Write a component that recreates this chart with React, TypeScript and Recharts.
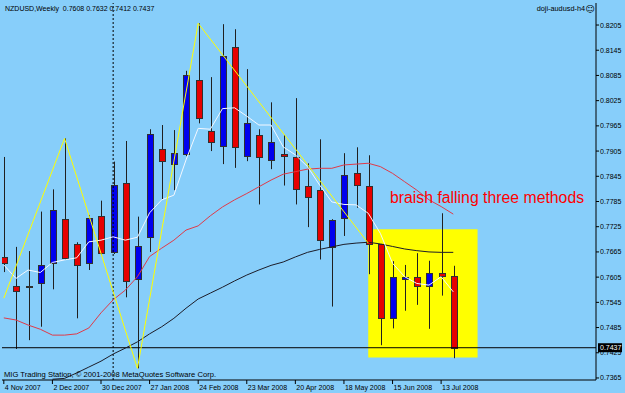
import {
  ComposedChart,
  Bar,
  Line,
  XAxis,
  YAxis,
  ReferenceArea,
  ReferenceLine,
} from "recharts";

// weekly NZDUSD bars, 4 Nov 2007 .. 20 Jul 2008
const OPEN = [
  0.7654, 0.7585, 0.7585, 0.7593, 0.7639, 0.7743, 0.7684, 0.7638, 0.7751, 0.7664,
  0.783, 0.76, 0.7701, 0.7909, 0.7873, 0.7897, 0.8074, 0.7953, 0.7918, 0.8153,
  0.7892, 0.7943, 0.7885, 0.7898, 0.7892, 0.7823, 0.7812, 0.7676, 0.7745, 0.7854,
  0.7823, 0.7683, 0.7507, 0.7601, 0.7605, 0.7584, 0.7615, 0.7608,
];
const HIGH = [
  0.7891, 0.7677, 0.7667, 0.7761, 0.7814, 0.7935, 0.7688, 0.7753, 0.7787, 0.788,
  0.7929, 0.7749, 0.7957, 0.7967, 0.7955, 0.8096, 0.8209, 0.8081, 0.8207, 0.8195,
  0.81, 0.7957, 0.8021, 0.7943, 0.8031, 0.7876, 0.7933, 0.7743, 0.79, 0.7914,
  0.7895, 0.7684, 0.7643, 0.7634, 0.7662, 0.7644, 0.7757, 0.7632,
];
const LOW = [
  0.7617, 0.7434, 0.7455, 0.7487, 0.7576, 0.7646, 0.7507, 0.7622, 0.7658, 0.766,
  0.7557, 0.7388, 0.7665, 0.7789, 0.7812, 0.7893, 0.7971, 0.7905, 0.7874, 0.7865,
  0.7881, 0.7778, 0.7862, 0.7823, 0.7778, 0.7724, 0.7647, 0.7535, 0.7703, 0.777,
  0.7612, 0.7443, 0.7483, 0.7525, 0.7539, 0.7482, 0.7561, 0.7412,
];
const CLOSE = [
  0.764, 0.7574, 0.7585, 0.7635, 0.7764, 0.765, 0.7633, 0.7745, 0.7662, 0.7824,
  0.7597, 0.7679, 0.7946, 0.7881, 0.79, 0.8085, 0.7984, 0.7927, 0.8131, 0.7915,
  0.7971, 0.789, 0.7927, 0.7894, 0.7816, 0.7796, 0.7692, 0.7741, 0.7847, 0.7826,
  0.7685, 0.7508, 0.7605, 0.7606, 0.7584, 0.7615, 0.7608, 0.7437,
];

// moving averages as drawn on the chart
const MA_FAST = [
  0.7634, 0.7602, 0.7622, 0.7616, 0.764, 0.7646, 0.7651, 0.7689, 0.7693, 0.7701,
  0.7693, 0.77, 0.7758, 0.7789, 0.78, 0.7884, 0.7959, 0.7957, 0.8006, 0.8008,
  0.7988, 0.7967, 0.7967, 0.7915, 0.7896, 0.7868, 0.7824, 0.7784, 0.7778, 0.7777,
  0.7757, 0.7709, 0.7638, 0.7606, 0.759, 0.7586, 0.7606, 0.757,
];
const MA_MID = [
  0.7508, 0.7503, 0.7491, 0.7481, 0.7467, 0.7467, 0.747, 0.7484, 0.752, 0.7551,
  0.7574, 0.7606, 0.7654, 0.7674, 0.7693, 0.7717, 0.7727, 0.7751, 0.7772, 0.7789,
  0.7804, 0.782, 0.7836, 0.785, 0.7856, 0.7862, 0.7864, 0.7864, 0.7872, 0.7874,
  0.7876, 0.7868, 0.7852, 0.7832, 0.7812, 0.7789, 0.7773, 0.7755,
];
const MA_SLOW = [
  null, null, null, null, 0.7362, 0.7364, 0.7377, 0.7391, 0.7405, 0.7422,
  0.7436, 0.7451, 0.747, 0.7487, 0.7507, 0.7531, 0.7553, 0.7567, 0.7581, 0.7596,
  0.761, 0.7622, 0.7633, 0.7641, 0.7653, 0.7664, 0.7671, 0.7677, 0.7683, 0.7686,
  0.7688, 0.7684, 0.7678, 0.7672, 0.7668, 0.7665, 0.7664, 0.7664,
];
const ZIGZAG: (number | null)[] = OPEN.map(() => null);
ZIGZAG[0] = 0.7555;
ZIGZAG[5] = 0.7935;
ZIGZAG[11] = 0.7388;
ZIGZAG[16] = 0.8209;
ZIGZAG[30] = 0.7686;

const TICK_IDX = [0, 4, 8, 12, 16, 20, 24, 28, 32, 36];
const DATE_LABELS = [
  "4 Nov 2007", "2 Dec 2007", "30 Dec 2007", "27 Jan 2008", "24 Feb 2008",
  "23 Mar 2008", "20 Apr 2008", "18 May 2008", "15 Jun 2008", "13 Jul 2008",
];
const PRICE_TICKS = [
  0.7365, 0.7425, 0.7485, 0.7545, 0.7605, 0.7665, 0.7725, 0.7785, 0.7845, 0.7905,
  0.7965, 0.8025, 0.8085, 0.8145, 0.8205,
];
const LAST = 0.7437;

const rows = OPEN.map((o, i) => ({
  i,
  open: o,
  high: HIGH[i],
  low: LOW[i],
  close: CLOSE[i],
  range: [LOW[i], HIGH[i]],
  fast: MA_FAST[i],
  mid: MA_MID[i],
  slow: MA_SLOW[i],
  zz: ZIGZAG[i],
}));

const BG = "#87CEFA";
const FONT = "'Liberation Sans', Arial, sans-serif";

function Candle(props: any) {
  const { x, y, width, height, payload } = props;
  if (x == null || !payload) return null;
  const top = Math.min(y, y + height);
  const h = Math.abs(height);
  const k = h / (payload.high - payload.low);
  const cx = Math.round(x + width / 2) + 0.5;
  const up = payload.close > payload.open;
  const flat = payload.close === payload.open;
  const bTop = top + (payload.high - Math.max(payload.open, payload.close)) * k;
  const bH = Math.abs(payload.open - payload.close) * k;
  const fill = flat ? "#000" : up ? "#0000ee" : "#e60000";
  return (
    <g>
      <line x1={cx} x2={cx} y1={top} y2={top + h} stroke="#202020" />
      <rect
        x={cx - 3}
        y={Math.round(bTop) + 0.5}
        width={6}
        height={Math.max(Math.round(bH), 1)}
        fill={fill}
        stroke="#303030"
      />
    </g>
  );
}

function DateTick({ x, y, payload }: any) {
  const label = DATE_LABELS[TICK_IDX.indexOf(payload.value)];
  return (
    <text x={x + 1} y={y + 5.5} fontSize={7} fontFamily={FONT} fill="#000">
      {label}
    </text>
  );
}

function PriceTag({ viewBox }: any) {
  if (!viewBox) return null;
  const x = viewBox.x + viewBox.width + 2;
  const y = viewBox.y;
  return (
    <g>
      <rect x={x} y={y - 4.5} width={24} height={9} fill="#000" />
      <text x={x + 2} y={y + 2.5} fontSize={7} fontFamily={FONT} fill="#fff">
        {LAST.toFixed(4)}
      </text>
    </g>
  );
}

export default function App() {
  return (
    <div style={{ position: "absolute", left: 0, top: 0, width: 625, height: 393, background: BG }}>
      <ComposedChart
        width={625}
        height={393}
        data={rows}
        margin={{ top: 3, right: 0, left: 2, bottom: 0 }}
      >
        <XAxis
          dataKey="i"
          type="number"
          domain={[-0.15, 48.75]}
          ticks={TICK_IDX}
          interval={0}
          allowDataOverflow
          height={13}
          tickSize={4}
          tickMargin={0}
          stroke="#000"
          tick={<DateTick />}
        />
        <YAxis
          orientation="right"
          domain={[0.73602, 0.82574]}
          ticks={PRICE_TICKS}
          interval={0}
          allowDataOverflow
          width={29}
          tickSize={3}
          tickMargin={1}
          stroke="#000"
          tick={{ fill: "#000", fontSize: 7, fontFamily: FONT }}
          tickFormatter={(v: number) => v.toFixed(4)}
        />
        <ReferenceArea x1={30} x2={39} y1={0.7414} y2={0.7719} fill="#ffff00" fillOpacity={1} stroke="none" />
        <ReferenceLine x={9} stroke="#000" strokeDasharray="2 2" />
        <ReferenceLine y={LAST} stroke="#000" label={<PriceTag />} />
        <Bar dataKey="range" barSize={7} shape={<Candle />} isAnimationActive={false} />
        <Line dataKey="slow" stroke="#1c1c28" dot={false} activeDot={false} isAnimationActive={false} />
        <Line dataKey="mid" stroke="#e03a48" dot={false} activeDot={false} isAnimationActive={false} />
        <Line dataKey="fast" stroke="#f4f8ff" dot={false} activeDot={false} isAnimationActive={false} />
        <Line dataKey="zz" stroke="#ffff00" dot={false} activeDot={false} connectNulls isAnimationActive={false} />
      </ComposedChart>
      <svg
        width={625}
        height={393}
        style={{ position: "absolute", left: 0, top: 0, pointerEvents: "none" }}
        fontFamily={FONT}
      >
        <text x={5} y={11} fontSize={7} fill="#000" style={{ whiteSpace: "pre" }}>
          {"NZDUSD,Weekly  0.7608 0.7632 0.7412 0.7437"}
        </text>
        <text x={585} y={11} fontSize={7.3} fill="#000" textAnchor="end">
          doji-audusd-h4
        </text>
        <text x={590} y={12} fontSize={9} fill="#000" textAnchor="middle" fontFamily="'DejaVu Sans'">
          ☺
        </text>
        <text x={4} y={377} fontSize={7.6} fill="#000">
          MIG Trading Station, © 2001-2008 MetaQuotes Software Corp.
        </text>
        <text x={390} y={203} fontSize={15.8} fill="#ff0000">
          braish falling three methods
        </text>
      </svg>
    </div>
  );
}
